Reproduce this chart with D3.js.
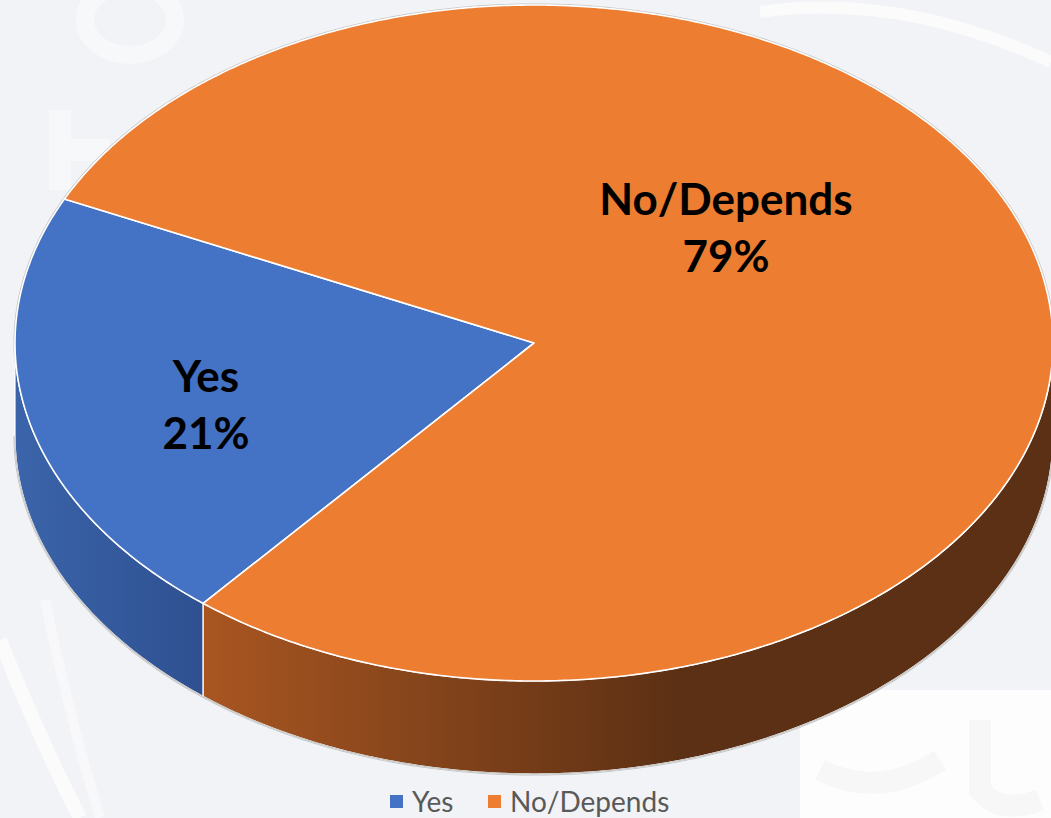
<!DOCTYPE html>
<html>
<head>
<meta charset="utf-8">
<script src="https://cdn.jsdelivr.net/npm/d3@7"></script>
<style>
  html, body { margin: 0; padding: 0; background: #f2f3f6; }
  svg { display: block; }
</style>
</head>
<body>
<svg id="chart" width="1051" height="818"></svg>
<script>
// ---- data ----
const categories = ["Yes", "No/Depends"];
const values = [21, 79];
const percentLabels = ["21%", "79%"];
const topColors = ["#4472c4", "#ed7d31"];
const sideLight = ["#3b64aa", "#a95621"];
const sideDark = ["#2e5090", "#5c3014"];

// ---- layout ----
const W = 1051, H = 818;
const cx = 534, cy = 343, rx = 519, ry = 338, depth = 93;
const startDeg = 219.6;
const labelPos = [[206, 392], [726, 215]];

const svg = d3.select("#chart");

// background watermark (faint)
const bg = svg.append("g");
bg.append("rect").attr("width", W).attr("height", H).attr("fill", "#f2f3f6");
bg.append("rect").attr("x", 800).attr("y", 690).attr("width", 260).attr("height", 140).attr("fill", "#fdfdfd");
bg.append("path").attr("d", "M760,12 Q900,-8 1051,62").attr("fill", "none").attr("stroke", "#fbfbfc").attr("stroke-width", 12);
bg.append("path").attr("d", "M0,640 Q40,740 80,818").attr("fill", "none").attr("stroke", "#fbfbfc").attr("stroke-width", 14);
bg.append("path").attr("d", "M45,600 Q70,720 100,818").attr("fill", "none").attr("stroke", "#f8f8fa").attr("stroke-width", 10);
bg.append("ellipse").attr("cx", 130).attr("cy", 20).attr("rx", 45).attr("ry", 35).attr("fill", "none").attr("stroke", "#f7f8f9").attr("stroke-width", 18);
bg.append("path").attr("d", "M60,110 L60,190 M60,150 L110,150").attr("fill", "none").attr("stroke", "#f7f8f9").attr("stroke-width", 22);
bg.append("path").attr("d", "M980,720 L980,790 Q1000,815 1040,800").attr("fill", "none").attr("stroke", "#f7f7f8").attr("stroke-width", 22);
bg.append("path").attr("d", "M940,760 Q880,800 820,770").attr("fill", "none").attr("stroke", "#f7f7f8").attr("stroke-width", 22);

const pie = d3.pie().sort(null).value(d => d)
  .startAngle(startDeg * Math.PI / 180)
  .endAngle(startDeg * Math.PI / 180 + 2 * Math.PI);
const arcs = pie(values);

const ang = d3.scaleLinear().domain([0, 360]).range([0, 2 * Math.PI]);
function pt(a, dz) { return [cx + rx * Math.sin(a), cy - ry * Math.cos(a) + (dz || 0)]; }
function arcPts(a0, a1, dz) {
  const n = Math.max(2, Math.ceil(Math.abs(a1 - a0) / ang(0.5)));
  return d3.range(n + 1).map(i => pt(a0 + (a1 - a0) * i / n, dz));
}
const line = d3.line();

// gradients
const defs = svg.append("defs");
const gradX = [[15, 205], [202, 680]];
arcs.forEach((a, i) => {
  const g = defs.append("linearGradient").attr("id", "side" + i)
    .attr("gradientUnits", "userSpaceOnUse")
    .attr("x1", gradX[i][0]).attr("x2", gradX[i][1]).attr("y1", 0).attr("y2", 0);
  g.append("stop").attr("offset", 0).attr("stop-color", sideLight[i]);
  g.append("stop").attr("offset", 1).attr("stop-color", sideDark[i]);
});

const pieG = svg.append("g");

// outer silhouette outline (gray)
pieG.append("path")
  .attr("d", line(arcPts(0, ang(360), 0)) + "Z")
  .attr("fill", "none").attr("stroke", "#c4c4c4").attr("stroke-width", 3);
pieG.append("path")
  .attr("d", line(arcPts(ang(90), ang(270), depth)))
  .attr("fill", "none").attr("stroke", "#c4c4c4").attr("stroke-width", 3);

// side walls
arcs.forEach((a, i) => {
  for (let k = -1; k <= 2; k++) {
    const lo = Math.max(a.startAngle, ang(90) + k * 2 * Math.PI);
    const hi = Math.min(a.endAngle, ang(270) + k * 2 * Math.PI);
    if (hi > lo) {
      const topE = arcPts(lo, hi, 0);
      const botE = arcPts(hi, lo, depth);
      pieG.append("path")
        .attr("d", line(topE.concat(botE)) + "Z")
        .attr("fill", `url(#side${i})`)
        .attr("stroke", "#ffffff").attr("stroke-width", 1.2).attr("stroke-linejoin", "round");
    }
  }
});
pieG.append("path")
  .attr("d", line(arcPts(ang(90), ang(270), depth)))
  .attr("fill", "none").attr("stroke", "#c8c8c8").attr("stroke-width", 1.2);

// top faces
arcs.forEach((a, i) => {
  const pts = [[cx, cy]].concat(arcPts(a.startAngle, a.endAngle, 0));
  pieG.append("path")
    .attr("d", line(pts) + "Z")
    .attr("fill", topColors[i])
    .attr("stroke", "#ffffff").attr("stroke-width", 1.6).attr("stroke-linejoin", "round");
});

// data labels
const lab = svg.append("g")
  .attr("font-family", "Lato, 'Open Sans', sans-serif")
  .attr("font-weight", "bold").attr("font-size", 44).attr("fill", "#000")
  .attr("text-anchor", "middle");
arcs.forEach((a, i) => {
  const t = lab.append("text").attr("x", labelPos[i][0]).attr("y", labelPos[i][1]);
  t.append("tspan").attr("x", labelPos[i][0]).text(categories[i]);
  t.append("tspan").attr("x", labelPos[i][0]).attr("dy", 57).text(percentLabels[i]);
});

// legend
const legend = svg.append("g")
  .attr("font-family", "Lato, 'Open Sans', sans-serif")
  .attr("font-size", 28).attr("fill", "#595959");
const legX = [390, 488];
categories.forEach((c, i) => {
  legend.append("rect").attr("x", legX[i]).attr("y", 795).attr("width", 13).attr("height", 13).attr("fill", topColors[i]);
  legend.append("text").attr("x", legX[i] + 22).attr("y", 812).text(c);
});
</script>
</body>
</html>
